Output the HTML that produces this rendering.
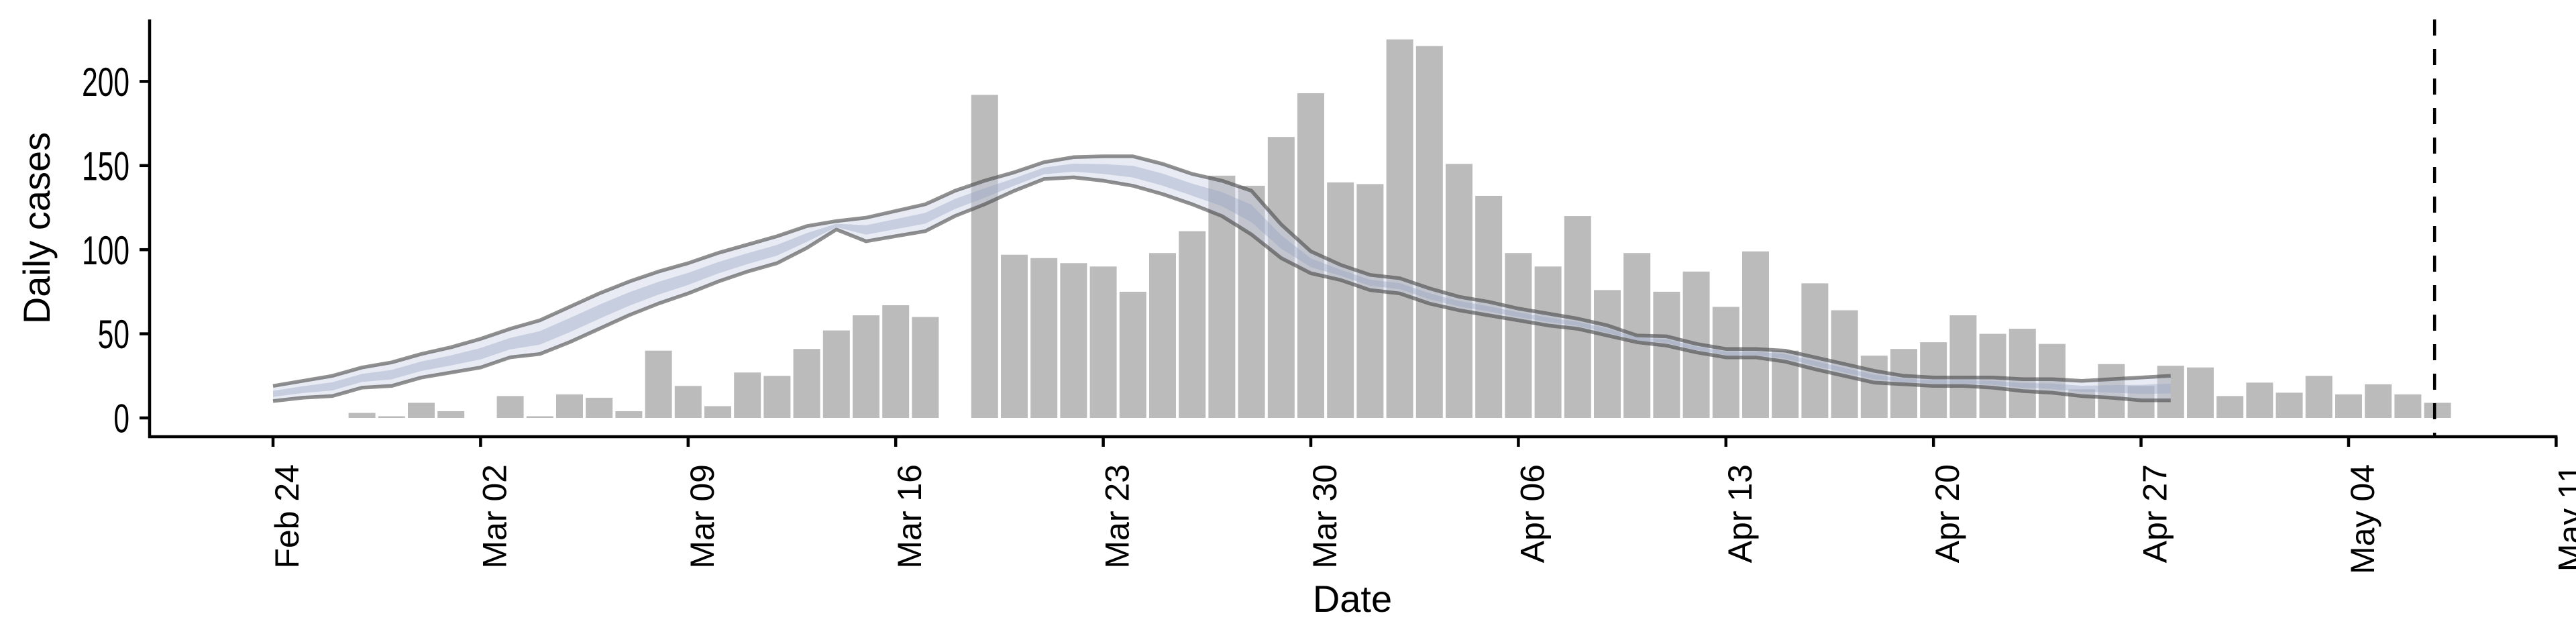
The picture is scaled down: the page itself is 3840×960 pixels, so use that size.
<!DOCTYPE html>
<html><head><meta charset="utf-8"><style>
html,body{margin:0;padding:0;background:#fff;}
svg{display:block;font-family:"Liberation Sans",sans-serif;}
</style></head><body>
<svg id="chart" width="3840" height="960" viewBox="0 0 3840 960">
<g id="bars"></g>
<g id="band"></g>
<g id="axes"></g>
<text x="2016" y="912" font-size="56" text-anchor="middle">Date</text>
<text transform="translate(74,340) rotate(-90)" font-size="56" text-anchor="middle">Daily cases</text>
</svg>
<script>
// Data (day offsets from Feb 24)
const barDays = [3,4,5,6,8,9,10,11,12,13,14,15,16,17,18,19,20,21,22,24,25,26,27,28,29,30,31,32,33,34,35,36,37,38,39,40,41,42,43,44,45,46,47,48,49,50,51,52,53,54,55,56,57,58,59,60,61,62,63,64,65,66,67,68,69,70,71,72,73];
const barValues = [3,1,9,4,13,1,14,12,4,40,19,7,27,25,41,52,61,67,60,192,97,95,92,90,75,98,111,144,138,167,193,140,139,225,221,151,132,98,90,120,76,98,75,87,66,99,40,80,64,37,41,45,61,50,53,44,17,32,19,31,30,13,21,15,25,14,20,14,9];
const upperValues = [19,22,25,30,33,38,42,47,53,58,66,74,81,87,92,98,103,108,114,117,119,123,127,135,141,146,152,155,155.5,155.5,151,145,141,135,115,99,91,85,83,77,72,69,65,62,59,55,49,48.5,44,41,41,40,36,32,28,25,24,24,24,23,23,22,23,24,25];
const lowerValues = [10,12,13,18,19,24,27,30,36,38,45,53,61,68,74,81,87,92,101,112,105,108,111,120,127,135,142,143,141,138,133,127,120,109,95,86,82,76,74,68,64,61,58,55,53,49,45,43,39,36,36,33.5,29,25,21,20,19,19,18,16,15,13,12,10.5,10.5];
const xTickLabels = ["Feb 24","Mar 02","Mar 09","Mar 16","Mar 23","Mar 30","Apr 06","Apr 13","Apr 20","Apr 27","May 04","May 11"];
const xTickDays = [0,7,14,21,28,35,42,49,56,63,70,77];
const yTickValues = [0,50,100,150,200];
const markerDay = 72.9;

const NS = "http://www.w3.org/2000/svg";
const X0 = 407, DAY = 44.2;
const Y0 = 623, UNIT = 2.508;
const xs = d => X0 + d * DAY;
const ys = v => Y0 - v * UNIT;
function mk(tag, attrs, parent) {
  const e = document.createElementNS(NS, tag);
  for (const k in attrs) e.setAttribute(k, attrs[k]);
  parent.appendChild(e);
  return e;
}
const barsG = document.getElementById('bars');
barDays.forEach((d, i) => {
  const w = 40;
  const r = mk('rect', {x: xs(d) - w / 2, y: ys(barValues[i]), width: w, height: barValues[i] * UNIT, fill: '#bbbbbb'}, barsG);
  
  
});
const bandG = document.getElementById('band');
const N = Math.min(upperValues.length, lowerValues.length);
function areaPath(lo, hi) {
  let p = '';
  for (let i = 0; i < N; i++) p += (i ? 'L' : 'M') + xs(i).toFixed(1) + ',' + ys(hi[i]).toFixed(1);
  for (let i = N - 1; i >= 0; i--) p += 'L' + xs(i).toFixed(1) + ',' + ys(lo[i]).toFixed(1);
  return p + 'Z';
}
const innerLo = lowerValues.map((l, i) => l + 0.28 * (upperValues[i] - l));
const innerHi = lowerValues.map((l, i) => l + 0.68 * (upperValues[i] - l));
const outer = mk('path', {d: areaPath(lowerValues, upperValues), fill: 'rgba(205,210,228,0.45)'}, bandG);


const inner = mk('path', {d: areaPath(innerLo, innerHi), fill: 'rgba(150,163,195,0.4)'}, bandG);


function linePath(arr) {
  return arr.slice(0, N).map((v, i) => (i ? 'L' : 'M') + xs(i).toFixed(1) + ',' + ys(v).toFixed(1)).join('');
}
const ul = mk('path', {d: linePath(upperValues), fill: 'none', stroke: 'rgba(70,70,70,0.6)', 'stroke-width': 5.5, 'stroke-linejoin': 'round'}, bandG);


const ll = mk('path', {d: linePath(lowerValues), fill: 'none', stroke: 'rgba(70,70,70,0.6)', 'stroke-width': 5.5, 'stroke-linejoin': 'round'}, bandG);



const axG = document.getElementById('axes');
const yAxis = mk('line', {x1: 223, y1: 29, x2: 223, y2: 653, stroke: '#000', 'stroke-width': 4.5}, axG);


const xAxis = mk('line', {x1: 221, y1: 651, x2: xs(77) + 2, y2: 651, stroke: '#000', 'stroke-width': 4.5}, axG);


yTickValues.forEach(v => {
  const t = mk('line', {x1: 208, y1: ys(v), x2: 223, y2: ys(v), stroke: '#000', 'stroke-width': 4.5}, axG);
  
  
  const l = mk('text', {x: 193, y: ys(v) + 18, 'font-size': 50, 'text-anchor': 'end'}, axG);
  l.setAttribute('transform', 'translate(193,' + ys(v) + ') scale(0.85,1.2) translate(-193,' + (-ys(v)) + ')');
  l.textContent = v;
  
  
});
xTickDays.forEach((d, i) => {
  const t = mk('line', {x1: xs(d), y1: 651, x2: xs(d), y2: 666, stroke: '#000', 'stroke-width': 4.5}, axG);
  
  
  const l = mk('text', {transform: 'translate(' + (xs(d) + 38) + ',692) rotate(-90)', 'font-size': 50, 'text-anchor': 'end'}, axG);
  l.textContent = xTickLabels[i];
  
  
});
const dash = mk('line', {x1: xs(markerDay), y1: 29, x2: xs(markerDay), y2: 651, stroke: '#000', 'stroke-width': 4.5, 'stroke-dasharray': '24,20'}, axG);


</script>
</body></html>
